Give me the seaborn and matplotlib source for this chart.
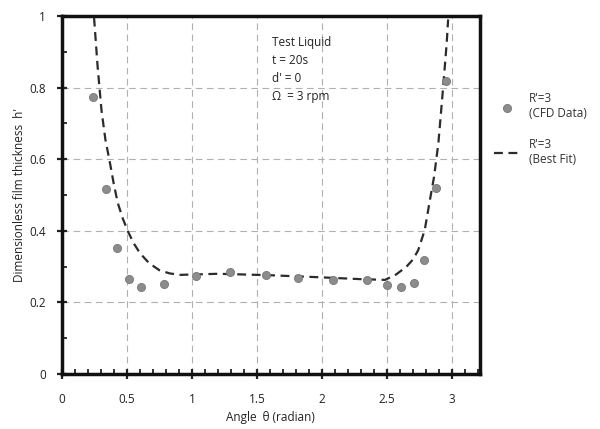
import matplotlib
matplotlib.use("Agg")
import matplotlib.pyplot as plt
import seaborn as sns
import pandas as pd
from matplotlib.ticker import MultipleLocator

# CFD results: film thickness around the cylinder
cfd_theta = [0.24, 0.338, 0.425, 0.515, 0.608, 0.785, 1.03, 1.292, 1.57, 1.815,
             2.082, 2.35, 2.50, 2.605, 2.71, 2.782, 2.877, 2.954]
cfd_h = [0.773, 0.517, 0.352, 0.265, 0.243, 0.251, 0.274, 0.284, 0.278, 0.269,
         0.264, 0.264, 0.250, 0.244, 0.253, 0.318, 0.520, 0.817]

# Best-fit curve
fit_theta = [0.248, 0.275, 0.305, 0.335, 0.37, 0.40, 0.43, 0.47, 0.51, 0.555, 0.60,
             0.67, 0.75, 0.83, 0.91, 1.2, 1.6, 2.0, 2.3, 2.485, 2.57, 2.65, 2.70,
             2.74, 2.79, 2.83, 2.862, 2.895, 2.928, 2.959, 2.97]
fit_h = [0.995, 0.86, 0.737, 0.655, 0.59, 0.53, 0.478, 0.433, 0.397, 0.364, 0.338,
         0.31, 0.29, 0.281, 0.277, 0.28, 0.276, 0.27, 0.265, 0.263, 0.278, 0.30,
         0.32, 0.346, 0.402, 0.486, 0.551, 0.645, 0.785, 0.924, 0.99]

x_ticks = [0, 0.5, 1, 1.5, 2, 2.5, 3]
x_tick_labels = ["0", "0.5", "1", "1.5", "2", "2.5", "3"]
y_ticks = [0, 0.2, 0.4, 0.6, 0.8, 1]
y_tick_labels = ["0", "0.2", "0.4", "0.6", "0.8", "1"]

info_lines = ["Test Liquid", "t = 20s", "d' = 0", "\u03a9  = 3 rpm"]

sns.set_style("white")
plt.rcParams["font.family"] = ["Open Sans", "DejaVu Sans"]

fig = plt.figure(figsize=(6, 4.29), dpi=100)
ax = fig.add_axes([0.103, 0.128, 0.697, 0.835])

cfd = pd.DataFrame({"theta": cfd_theta, "h": cfd_h})
fit = pd.DataFrame({"theta": fit_theta, "h": fit_h})

sns.lineplot(data=fit, x="theta", y="h", sort=False, ax=ax, color="#2b2b2b",
             lw=1.6, linestyle=(0, (4, 2.5)), label="R'=3\n(Best Fit)", zorder=3)
sns.scatterplot(data=cfd, x="theta", y="h", ax=ax, color="#8c8c8c", s=34,
                edgecolor="#777777", linewidth=0.6, label="R'=3\n(CFD Data)", zorder=4)

ax.set_xlim(0, 3.215)
ax.set_ylim(0, 1)
ax.set_xticks(x_ticks)
ax.set_xticklabels(x_tick_labels)
ax.set_yticks(y_ticks)
ax.set_yticklabels(y_tick_labels)
ax.xaxis.set_minor_locator(MultipleLocator(0.1))
ax.yaxis.set_minor_locator(MultipleLocator(0.1))
ax.tick_params(axis="both", which="both", bottom=True, left=True)
ax.tick_params(axis="both", which="major", direction="inout", length=7, width=1.6,
               labelsize=8.5, colors="#222222", pad=8)
ax.tick_params(axis="both", which="minor", direction="in", length=3.5, width=1.3,
               colors="#222222")
ax.tick_params(axis="x", which="major", pad=10)

ax.grid(True, which="major", color="#b0b0b0", lw=0.8, linestyle=(0, (6, 4)))
for s in ax.spines.values():
    s.set_linewidth(2.5)
    s.set_color("#111111")

ax.set_xlabel("Angle  \u03b8 (radian)", fontsize=8.5, color="#222222", labelpad=4)
ax.set_ylabel("Dimensionless film thickness  h'", fontsize=8.5, color="#222222",
              labelpad=2)

for i, line in enumerate(info_lines):
    ax.text(1.615, 0.927 - i * 0.051, line, fontsize=8.5, color="#222222",
            va="center", ha="left")

handles, labels = ax.get_legend_handles_labels()
if ax.legend_:
    ax.legend_.remove()
order = [1, 0]
fig.legend([handles[i] for i in order], [labels[i] for i in order],
           loc="upper left", bbox_to_anchor=(0.805, 0.81), frameon=False,
           fontsize=8.5, handlelength=2.2, labelspacing=1.5, labelcolor="#333333")

fig.savefig("out.png", dpi=100)
